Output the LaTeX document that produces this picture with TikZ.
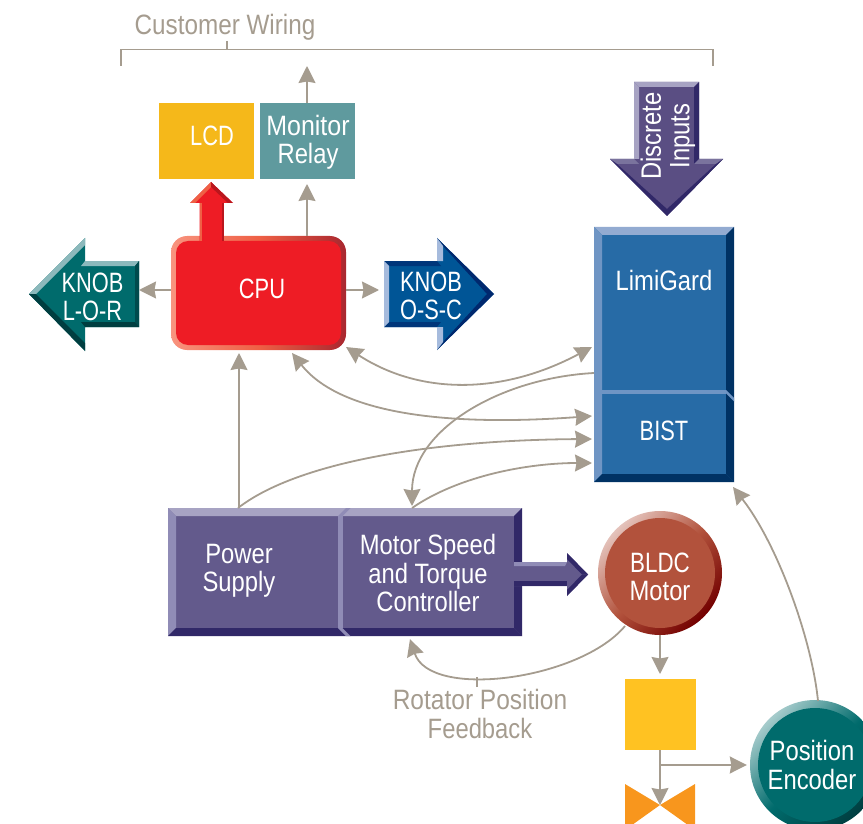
\documentclass[tikz,border=0pt]{standalone}
\usepackage{fontspec}
\setmainfont[FakeStretch=0.78]{Liberation Sans}
\newfontfamily\lowerf[FakeStretch=0.85]{Liberation Sans}
\usetikzlibrary{arrows.meta,calc}
\definecolor{wire}{HTML}{A59C8F}
\definecolor{lcdc}{HTML}{F5B81A}
\definecolor{relayc}{HTML}{5F9A9E}
\definecolor{cpuc}{HTML}{EE1C25}
\definecolor{cpul}{HTML}{F8947F}
\definecolor{cpum}{HTML}{EF6045}
\definecolor{cpud}{HTML}{A9272F}
\definecolor{tealc}{HTML}{006B6C}
\definecolor{teall}{HTML}{8CB9BC}
\definecolor{teald}{HTML}{003E40}
\definecolor{bluec}{HTML}{005596}
\definecolor{bluel}{HTML}{A6BBDD}
\definecolor{blued}{HTML}{00286E}
\definecolor{limic}{HTML}{276BA6}
\definecolor{limit}{HTML}{93ABD1}
\definecolor{limil}{HTML}{6F95C4}
\definecolor{limid}{HTML}{003264}
\definecolor{purc}{HTML}{635A8C}
\definecolor{purt}{HTML}{A7A3C3}
\definecolor{purl}{HTML}{908CB6}
\definecolor{purd}{HTML}{312868}
\definecolor{discc}{HTML}{5A4E83}
\definecolor{motorc}{HTML}{B2523C}
\definecolor{gearc}{HTML}{FFC222}
\definecolor{valvec}{HTML}{F8961D}
\tikzset{
  conn/.style={draw=wire,line width=1.8pt,-{Stealth[length=17pt,width=17pt,inset=1.5pt]}},
  conn2/.style={conn,{Stealth[length=17pt,width=17pt,inset=1.5pt]}-{Stealth[length=17pt,width=17pt,inset=1.5pt]}},
  plainwire/.style={draw=wire,line width=1.8pt},
  block/.style={rectangle,inner sep=0pt,outer sep=0pt},
  lbl/.style={inner sep=0pt,outer sep=0pt,align=center,text=white,font=\fontsize{28}{28.5}\selectfont},
  llbl/.style={lbl,font=\lowerf\fontsize{28}{28.5}\selectfont},
  glbl/.style={llbl,text=wire}
}
\begin{document}
\begin{tikzpicture}[x=1pt,y=-1pt]
\useasboundingbox (0,0) rectangle (863,824);
\clip (0,0) rectangle (863,824);

% top labels and bracket
\node[glbl] (wiring) at (225,27.5) {\scalebox{1.02}[1]{Customer Wiring}};
\coordinate (bracketL) at (121,49.5);
\coordinate (bracketR) at (713,49.5);
\draw[plainwire] (121,66) -- (bracketL) -- (bracketR) -- (713,66);
\draw[plainwire] (227,41) -- (227,49.5);

% LCD / relay
\node[block,fill=lcdc,minimum width=95pt,minimum height=76pt] (lcd) at (206.5,141) {};
\node[lbl] (lcdt) at (212,136) {LCD};
\node[block,fill=relayc,minimum width=95pt,minimum height=76pt] (relay) at (307.5,141) {};
\node[llbl] (relayt) at (308,142.5) {\scalebox{1.05}[1]{Monitor}\\Relay};
\coordinate (relayout) at (307,66);
\draw[conn] (relay.north -| relayout) -- (relayout);

% CPU
\node[block,rounded corners=16pt,minimum width=175pt,minimum height=114pt,left color=cpul,right color=cpud,middle color=cpum] (cpu) at (258.5,293) {};
\fill[cpuc,rounded corners=12pt] (176,241) rectangle (341,345);
\node[lbl] (cput) at (262,289) {CPU};
\draw[conn] (cpu.north -| relayout) -- ([yshift=-5pt]relay.south -| relayout);
% red arrow to LCD
\fill[cpuc] (211,182) -- (233,203) -- (223.5,203) -- (223.5,243) -- (199.5,243) -- (199.5,203) -- (190,203) -- cycle;
\fill[cpum] (211,182) -- (190,203) -- (195,203) -- (211,187) -- cycle;
\fill[cpum] (199.5,203) -- (202,203) -- (202,241) -- (199.5,241) -- cycle;
\fill[cpuc!78!black] (211,182) -- (233,203) -- (228,203) -- (211,187) -- cycle;
\fill[cpuc!78!black] (223.5,203) -- (221.5,203) -- (221.5,241) -- (223.5,241) -- cycle;

% KNOB L-O-R
\fill[tealc] (29,294) -- (85,238) -- (85,261) -- (139,261) -- (139,327) -- (85,327) -- (85,351) -- cycle;
\fill[teall] (29,294) -- (85,238) -- (85,245) -- (36,294) -- cycle;
\fill[teall] (85,261) -- (139,261) -- (135,266) -- (81,266) -- cycle;
\fill[teald!70!tealc] (139,261) -- (139,327) -- (135,322) -- (135,266) -- cycle;
\fill[teald] (85,327) -- (139,327) -- (135,322) -- (81,322) -- cycle;
\fill[teald] (29,294) -- (85,351) -- (85,343) -- (36,294) -- cycle;
\node[block,minimum width=54pt,minimum height=66pt] (knobl) at (112,294) {};
\node[lbl] (knoblt) at (92.5,297) {KNOB\\L-O-R};
\draw[conn] (cpu.west |- 0,290) -- (knobl.east |- 0,290);

% KNOB O-S-C
\fill[bluec] (494,294) -- (437,238) -- (437,261) -- (384,261) -- (384,327) -- (437,327) -- (437,350) -- cycle;
\fill[blued] (494,294) -- (437,238) -- (443,246) -- (487,294) -- cycle;
\fill[blued] (494,294) -- (437,350) -- (443,342) -- (487,294) -- cycle;
\fill[bluel] (437,238) -- (443,246) -- (443,261) -- (437,261) -- cycle;
\fill[bluel] (437,350) -- (443,342) -- (443,327) -- (437,327) -- cycle;
\fill[blued!70!bluec] (384,261) -- (437,261) -- (441,266) -- (389,266) -- cycle;
\fill[blued!70!bluec] (384,327) -- (437,327) -- (441,322) -- (389,322) -- cycle;
\fill[bluel] (384,261) -- (389,266) -- (389,322) -- (384,327) -- cycle;
\node[block,minimum width=53pt,minimum height=66pt] (knobr) at (410.5,294) {};
\node[lbl] (knobrt) at (431,296) {KNOB\\O-S-C};
\draw[conn] (cpu.east |- 0,290) -- ([xshift=-5pt]knobr.west |- 0,290);

% Discrete Inputs arrow
\fill[discc] (634,82) -- (699,82) -- (699,159) -- (723,159) -- (667,216) -- (610,159) -- (634,159) -- cycle;
\fill[purt] (634,82) -- (699,82) -- (694,87) -- (639,87) -- cycle;
\fill[purt] (634,82) -- (639,87) -- (639,159) -- (634,159) -- cycle;
\fill[purd] (699,82) -- (694,87) -- (694,164) -- (699,159) -- cycle;
\fill[purc!85!white] (610,159) -- (634,159) -- (639,164) -- (617,164) -- cycle;
\fill[purc!85!white] (723,159) -- (699,159) -- (694,164) -- (716,164) -- cycle;
\fill[purd] (610,159) -- (667,216) -- (667,209) -- (617,164) -- cycle;
\fill[purd] (723,159) -- (667,216) -- (667,209) -- (716,164) -- cycle;
\node[llbl,rotate=90] (disct) at (668,136) {Discrete\\Inputs};

% LimiGard + BIST
\node[block,fill=limic,minimum width=140pt,minimum height=255pt] (limi) at (664,354.5) {};
\fill[limit] (594,227) -- (734,227) -- (726,235) -- (602,235) -- cycle;
\fill[limil] (594,227) -- (602,235) -- (602,474) -- (594,482) -- cycle;
\fill[limid] (734,227) -- (726,235) -- (726,474) -- (734,482) -- cycle;
\fill[limid] (594,482) -- (734,482) -- (726,474) -- (602,474) -- cycle;
\fill[limil] (602,390) -- (726,390) -- (726,393.5) -- (602,393.5) -- cycle;
\fill[limil] (602,390) -- (602,393.5) -- (594,401.5) -- (594,398) -- cycle;
\fill[limil] (726,390) -- (726,393.5) -- (734,401.5) -- (734,398) -- cycle;
\node[llbl] (limit) at (664,280) {LimiGard};
\node[lbl] (bist) at (664,431) {BIST};

% Power Supply + controller
\node[block,fill=purc,minimum width=174pt,minimum height=128pt] (power) at (255,572) {};
\node[block,fill=purc,minimum width=180pt,minimum height=128pt] (ctrl) at (432,572) {};
\fill[purt] (168,508) -- (522,508) -- (514,516) -- (176,516) -- cycle;
\fill[purl] (168,508) -- (176,516) -- (176,628) -- (168,636) -- cycle;
\fill[purd] (522,508) -- (514,516) -- (514,628) -- (522,636) -- cycle;
\fill[purd] (168,636) -- (522,636) -- (514,628) -- (176,628) -- cycle;
\fill[purl] (338,516) -- (342.5,516) -- (342.5,628) -- (338,628) -- cycle;
\fill[purl] (338,516) -- (346,508) -- (350.5,508) -- (342.5,516) -- cycle;
\fill[purl] (338,628) -- (346,636) -- (350.5,636) -- (342.5,628) -- cycle;
\node[llbl] (powert) at (239,571) {Power\\Supply};
\node[llbl] (ctrlt) at (428,573) {Motor Speed\\and Torque\\Controller};

% Motor
\node[circle,inner sep=0pt,minimum size=124pt,top color=motorc!35!white,bottom color=red!45!black,middle color=motorc,shading angle=45] (bldc) at (660,573) {};
\fill[motorc] (bldc.center) circle (55pt);
\node[llbl] (bldct) at (660,577) {\scalebox{.94}[1]{BLDC}\\Motor};

% drive arrow
\fill[purc] (514,562) -- (567,562) -- (567,553) -- (588,574.5) -- (567,596) -- (567,586) -- (514,586) -- cycle;
\fill[purl] (514,562) -- (567,562) -- (565,566) -- (514,566) -- cycle;
\fill[purd] (514,586) -- (567,586) -- (567,581) -- (514,581) -- cycle;
\fill[purd] (567,553) -- (588,574.5) -- (582,574.5) -- (567,559) -- cycle;
\fill[purd] (567,596) -- (588,574.5) -- (582,574.5) -- (567,590) -- cycle;

% gear box and valve
\node[block,fill=gearc,minimum width=71pt,minimum height=71pt] (gear) at (660.5,714.5) {};
\fill[valvec] (625,784) -- (660,805) -- (695,784) -- (695,830) -- (660,805) -- (625,830) -- cycle;
\coordinate (valve) at (660,805);

% encoder
\node[circle,inner sep=0pt,minimum size=130pt,top color=tealc!35!white,bottom color=teald,middle color=tealc,shading angle=45] (enc) at (815,765) {};
\fill[tealc] (enc.center) circle (57pt);
\node[llbl] (enct) at (812,765) {Position\\Encoder};

% connectors
\draw[conn] (bldc.south) -- ([yshift=5pt]gear.north -| bldc.south);
\draw[conn] (gear.south -| valve) -- (valve);
\coordinate (branch) at (660,765);
\draw[conn] (branch) -- ([xshift=-3pt]enc.west);
\draw[conn] (818,701) .. controls (812,640) and (778,545) .. (733,487);
\draw[conn] (239,508) -- (239,353);
\draw[conn2] (346,347) .. controls (420,395) and (502,395) .. (592,347);
\draw[conn2] (292,353) .. controls (345,420) and (470,425) .. (592,416);
\draw[conn] (238,508) .. controls (300,460) and (440,440) .. (592,439);
\draw[conn] (412,508) .. controls (460,475) and (530,463) .. (592,463);
\draw[conn] (594,373) .. controls (500,378) and (412,430) .. (412,506);
\draw[conn] (625,626) .. controls (580,680) and (430,700) .. (410,639);

% rotator label
\node[glbl] (rot) at (480,714) {\scalebox{1.03}[1]{Rotator Position}\\Feedback};
\draw[plainwire] (477,687) -- (477,677);
\end{tikzpicture}
\end{document}
